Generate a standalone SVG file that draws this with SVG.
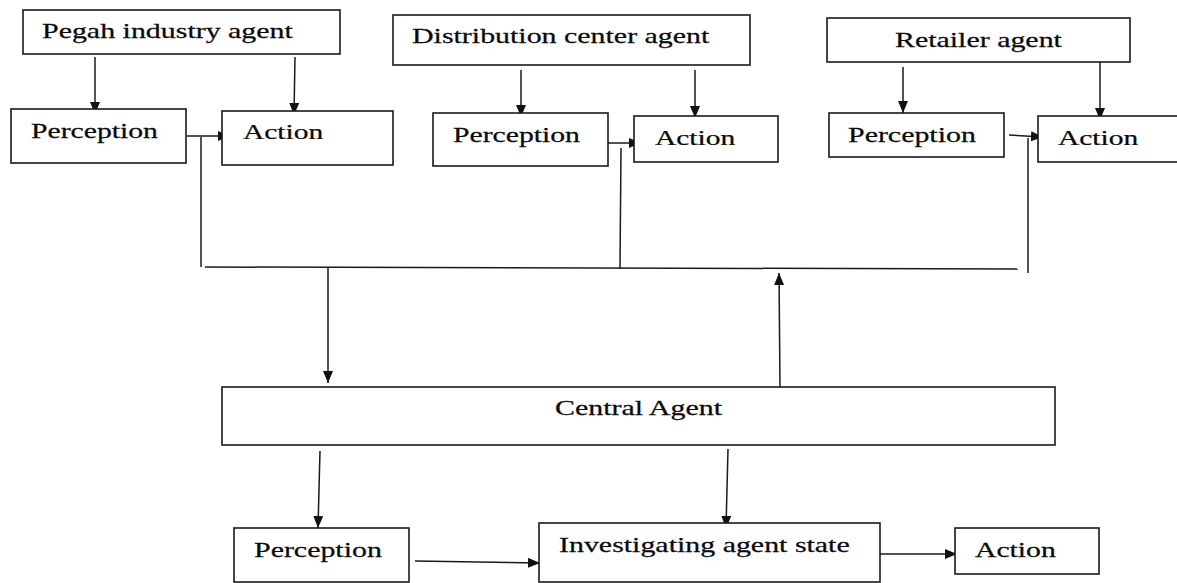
<svg xmlns="http://www.w3.org/2000/svg" width="1177" height="583" viewBox="0 0 1177 583">
  <style>
    .box { fill: #ffffff; stroke: #1a1a1a; stroke-width: 1.6; }
    .lbl { font-family: "Liberation Serif", "Times New Roman", serif; font-size: 22px; fill: #0a0a0a; stroke: #0a0a0a; stroke-width: 0.25; }
    .ln { fill: none; stroke: #1a1a1a; stroke-width: 1.5; }
    .arr { fill: none; stroke: #1a1a1a; stroke-width: 1.5; marker-end: url(#head); }
  </style>
  <defs>
    <marker id="head" markerUnits="userSpaceOnUse" markerWidth="13" markerHeight="11" refX="12" refY="5" orient="auto">
      <path d="M0,0 L12,5 L0,10 z" fill="#111111"/>
    </marker>
  </defs>
  <rect width="1177" height="583" fill="#ffffff"/>

  <!-- connectors -->
  <g id="connectors">
    <!-- Pegah industry agent -->
    <line class="arr" x1="95" y1="57" x2="95" y2="114"/>
    <line class="arr" x1="295" y1="57" x2="294" y2="115"/>
    <line class="arr" x1="187" y1="136" x2="230" y2="136"/>
    <line class="ln" x1="201" y1="137" x2="201" y2="267"/>
    <!-- Distribution center agent -->
    <line class="arr" x1="521" y1="70" x2="521" y2="117"/>
    <line class="arr" x1="695" y1="70" x2="695" y2="118"/>
    <line class="arr" x1="608" y1="143" x2="641" y2="143"/>
    <line class="ln" x1="621" y1="148" x2="620" y2="269"/>
    <!-- Retailer agent -->
    <line class="arr" x1="1009" y1="135" x2="1043" y2="137"/>
    <line class="arr" x1="903" y1="67" x2="903" y2="113"/>
    <line class="arr" x1="1100" y1="62" x2="1100" y2="120"/>
    <line class="ln" x1="1028" y1="138" x2="1028" y2="273"/>
    <!-- shared bus -->
    <line class="ln" x1="205" y1="267" x2="1018" y2="269"/>
    <!-- bus <-> central agent -->
    <line class="arr" x1="328" y1="268" x2="328" y2="383"/>
    <line class="arr" x1="780" y1="388" x2="779" y2="273"/>
    <!-- central agent internals -->
    <line class="arr" x1="320" y1="451" x2="318" y2="528"/>
    <line class="arr" x1="728" y1="449" x2="726" y2="528"/>
    <line class="arr" x1="415" y1="561" x2="540" y2="563"/>
    <line class="arr" x1="878" y1="554" x2="957" y2="554"/>
  </g>

  <g id="pegah-agent">
    <rect class="box" x="23" y="10" width="317" height="44"/>
    <text class="lbl" transform="translate(42,38) scale(1.36,1)">Pegah industry agent</text>
  </g>
  <g id="pegah-perception">
    <rect class="box" x="11" y="109" width="175" height="54"/>
    <text class="lbl" transform="translate(31,138) scale(1.35,1)">Perception</text>
  </g>
  <g id="pegah-action">
    <rect class="box" x="222" y="111" width="171" height="54"/>
    <text class="lbl" transform="translate(243,139) scale(1.34,1)">Action</text>
  </g>

  <g id="distribution-agent">
    <rect class="box" x="393" y="15" width="357" height="50"/>
    <text class="lbl" transform="translate(412,43) scale(1.36,1)">Distribution center agent</text>
  </g>
  <g id="distribution-perception">
    <rect class="box" x="433" y="113" width="175" height="53"/>
    <text class="lbl" transform="translate(453,142) scale(1.35,1)">Perception</text>
  </g>
  <g id="distribution-action">
    <rect class="box" x="634" y="116" width="144" height="46"/>
    <text class="lbl" transform="translate(655,145) scale(1.34,1)">Action</text>
  </g>

  <g id="retailer-agent">
    <rect class="box" x="827" y="18" width="303" height="44"/>
    <text class="lbl" transform="translate(895,47) scale(1.36,1)">Retailer agent</text>
  </g>
  <g id="retailer-perception">
    <rect class="box" x="829" y="113" width="175" height="44"/>
    <text class="lbl" transform="translate(848,142) scale(1.36,1)">Perception</text>
  </g>
  <g id="retailer-action">
    <rect class="box" x="1038" y="116" width="145" height="46"/>
    <text class="lbl" transform="translate(1058,145) scale(1.34,1)">Action</text>
  </g>

  <g id="central-agent">
    <rect class="box" x="222" y="387" width="833" height="58"/>
    <text class="lbl" transform="translate(555,415) scale(1.36,1)">Central Agent</text>
  </g>
  <g id="central-perception">
    <rect class="box" x="234" y="528" width="175" height="54"/>
    <text class="lbl" transform="translate(254,557) scale(1.36,1)">Perception</text>
  </g>
  <g id="investigating-state">
    <rect class="box" x="539" y="523" width="341" height="59"/>
    <text class="lbl" transform="translate(559,552) scale(1.36,1)">Investigating agent state</text>
  </g>
  <g id="central-action">
    <rect class="box" x="955" y="528" width="144" height="46"/>
    <text class="lbl" transform="translate(975,557) scale(1.35,1)">Action</text>
  </g>
</svg>
